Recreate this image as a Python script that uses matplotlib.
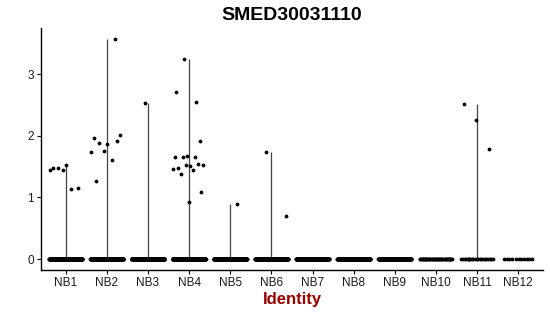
import numpy as np
import matplotlib
matplotlib.use("Agg")
import matplotlib.pyplot as plt

plt.rcParams['font.family'] = ['Liberation Sans', 'DejaVu Sans']

title = "SMED30031110"
categories = ["NB1", "NB2", "NB3", "NB4", "NB5", "NB6", "NB7", "NB8", "NB9", "NB10", "NB11", "NB12"]

# number of cells with zero expression per identity
zero_counts = [300, 380, 320, 380, 300, 260, 260, 250, 200, 45, 22, 11]

# non-zero expression values per identity
nonzero = {
    "NB1": [1.44, 1.44, 1.14, 1.48, 1.16, 1.52, 1.47],
    "NB2": [1.27, 1.91, 1.76, 1.73, 1.61, 1.88, 2.02, 1.86, 1.97, 3.57],
    "NB3": [2.53],
    "NB4": [1.91, 1.67, 1.65, 1.66, 1.66, 1.53, 1.51, 1.47, 1.54, 1.52, 1.46,
            1.45, 1.38, 1.08, 0.92, 2.71, 2.54, 3.24],
    "NB5": [0.90],
    "NB6": [1.73, 0.69],
    "NB7": [],
    "NB8": [],
    "NB9": [],
    "NB10": [],
    "NB11": [1.78, 2.25, 2.52],
    "NB12": [],
}

fig = plt.figure(figsize=(5.5, 3.16), dpi=100)
ax = fig.add_axes([41/550, 46/316, 502/550, 242/316])

golden = (np.sqrt(5) - 1) / 2
jit_w = 0.4
all_vals = []
for i, cat in enumerate(categories):
    pos = i + 1
    vals = np.array([0.0] * zero_counts[i] + list(nonzero[cat]))
    all_vals.extend(vals)
    vmax = vals.max()
    if vmax > 0:
        ax.vlines(pos, 0, vmax, color="#444444", lw=0.9, zorder=1)
    n = len(vals)
    # deterministic low-discrepancy jitter
    k = np.arange(n) + i * 7
    offs = ((k * golden) % 1.0) * 2 * jit_w - jit_w
    ax.scatter(pos + offs, vals, s=7.5, color="black", linewidths=0, zorder=2)

ymax = max(all_vals)
ax.set_ylim(-0.05 * ymax, ymax * 1.05)
ax.set_xlim(0.4, len(categories) + 0.6)
ax.set_xticks(range(1, len(categories) + 1))
ax.set_xticklabels(categories)
ax.set_yticks([0, 1, 2, 3])
ax.set_yticklabels(["0", "1", "2", "3"])

for s in ["top", "right"]:
    ax.spines[s].set_visible(False)
for s in ["left", "bottom"]:
    ax.spines[s].set_linewidth(1.0)
    ax.spines[s].set_color("black")
ax.tick_params(axis="both", length=3, width=0.8, labelsize=8.5, color="black", pad=2,
               labelcolor="#1a1a1a")

ax.set_xlabel("Identity", fontsize=12, fontweight="bold", color="#990000", labelpad=2)
fig.text(292/550, 1 - 16/316, title, ha="center", va="center", fontsize=14, fontweight="bold")

fig.savefig("out.png", dpi=100)
